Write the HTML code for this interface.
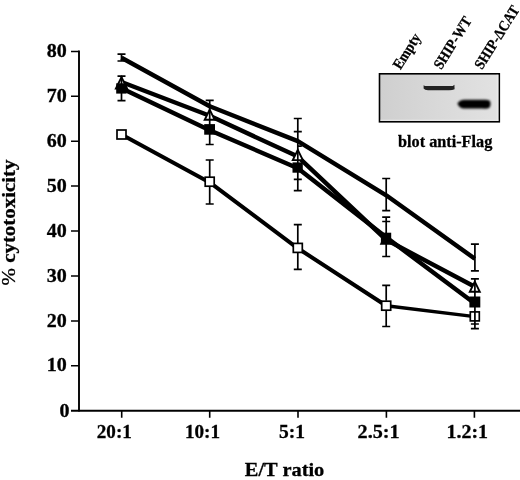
<!DOCTYPE html>
<html>
<head>
<meta charset="utf-8">
<title>Cytotoxicity vs E/T ratio</title>
<style>
html,body{margin:0;padding:0;background:#fff;}
body{width:520px;height:480px;overflow:hidden;}
svg{display:block;will-change:transform;}
text{font-family:"Liberation Serif","DejaVu Serif",serif;font-weight:bold;fill:#000;stroke:#000;stroke-width:0.3px;}
</style>
</head>
<body>
<svg width="520" height="480" viewBox="0 0 520 480">
<defs>
  <linearGradient id="gel" x1="0" y1="0" x2="1" y2="0">
    <stop offset="0" stop-color="#cfcfcf"/>
    <stop offset="0.5" stop-color="#d9d9d9"/>
    <stop offset="1" stop-color="#e2e2e2"/>
  </linearGradient>
  <filter id="b1" x="-20%" y="-100%" width="140%" height="300%"><feGaussianBlur stdDeviation="0.7"/></filter>
  <filter id="b2" x="-20%" y="-100%" width="140%" height="300%"><feGaussianBlur stdDeviation="0.9"/></filter>
</defs>
<rect x="0" y="0" width="520" height="480" fill="#fff"/>

<!-- axes -->
<g stroke="#000" fill="none" stroke-linecap="butt">
  <path d="M79 50.6 V411.6" stroke-width="1.9"/>
  <path d="M71 410.7 H520" stroke-width="2"/>
  <path d="M71 51.4 H79 M71 96.3 H79 M71 141.2 H79 M71 186.1 H79 M71 231.1 H79 M71 276.0 H79 M71 320.9 H79 M71 365.8 H79" stroke-width="1.5"/>
  <path d="M121.7 411 V417.8 M209.7 411 V417.8 M298 411 V417.8 M386.4 411 V417.8 M474.4 411 V417.8" stroke-width="1.6"/>
</g>

<!-- y tick labels -->
<g font-size="18.5" text-anchor="end">
  <text x="66.8" y="57.0" textLength="20" lengthAdjust="spacingAndGlyphs">80</text>
  <text x="66.8" y="101.9" textLength="20" lengthAdjust="spacingAndGlyphs">70</text>
  <text x="66.8" y="146.8" textLength="20" lengthAdjust="spacingAndGlyphs">60</text>
  <text x="66.8" y="191.7" textLength="20" lengthAdjust="spacingAndGlyphs">50</text>
  <text x="66.8" y="236.7" textLength="20" lengthAdjust="spacingAndGlyphs">40</text>
  <text x="66.8" y="281.6" textLength="20" lengthAdjust="spacingAndGlyphs">30</text>
  <text x="66.8" y="326.5" textLength="20" lengthAdjust="spacingAndGlyphs">20</text>
  <text x="66.8" y="371.4" textLength="20" lengthAdjust="spacingAndGlyphs">10</text>
  <text x="69.6" y="417" textLength="10" lengthAdjust="spacingAndGlyphs">0</text>
</g>

<!-- x tick labels -->
<g font-size="19">
  <text x="96.8" y="438" textLength="35" lengthAdjust="spacingAndGlyphs">20:1</text>
  <text x="185" y="438" textLength="35" lengthAdjust="spacingAndGlyphs">10:1</text>
  <text x="279" y="438" textLength="26" lengthAdjust="spacingAndGlyphs">5:1</text>
  <text x="357.6" y="438" textLength="42" lengthAdjust="spacingAndGlyphs">2.5:1</text>
  <text x="446.5" y="438" textLength="41.5" lengthAdjust="spacingAndGlyphs">1.2:1</text>
</g>

<!-- axis titles -->
<text x="244.8" y="476.4" font-size="19.5" textLength="79.5" lengthAdjust="spacingAndGlyphs">E/T ratio</text>
<text transform="translate(14.9 285.5) rotate(-90)" font-size="19.5" textLength="126" lengthAdjust="spacingAndGlyphs"><tspan font-weight="normal">%</tspan> cytotoxicity</text>

<!-- series lines -->
<g stroke="#000" stroke-width="4.4" fill="none" stroke-linejoin="round" stroke-linecap="butt">
  <polyline points="121.5,134.5 209.7,182.4 297.8,248.3 386.2,305.7" stroke-width="4"/>
  <polyline points="386.2,305.7 474.8,316.6" stroke-width="3.4"/>
  <polyline points="121.5,88.2 209.7,130.2 297.8,168.3 386.2,237.3 474.8,303.6"/>
  <polyline points="121.5,82.0 209.7,115.8 297.8,156.6 386.2,239.8 474.8,286.8"/>
  <polyline points="121.5,57.8 209.7,106.3 297.8,141.1 386.2,195.3 474.8,258.7"/>
</g>

<!-- markers -->
<g stroke="#000" stroke-width="1.7">
  <g fill="#fff">
    <rect x="117.00" y="130.00" width="9" height="9"/>
    <rect x="205.20" y="177.20" width="9" height="9"/>
    <rect x="293.30" y="243.40" width="9" height="9"/>
    <rect x="381.70" y="301.20" width="9" height="9"/>
    <rect x="470.30" y="311.90" width="9" height="9"/>
  </g>
  <g fill="#fff" stroke-linejoin="miter" stroke-width="1.9">
    <path d="M121.5 77.2 L127.1 88.6 H115.9 Z"/>
    <path d="M209.7 109.6 L214.7 119.8 H204.7 Z"/>
    <path d="M297.8 149.9 L302.8 160.1 H292.8 Z"/>
    <path d="M386.2 233.6 L391.2 243.8 H381.2 Z"/>
    <path d="M474.8 281.6 L479.8 291.8 H469.8 Z"/>
  </g>
  <g fill="#000" stroke="none">
    <rect x="116.20" y="83.30" width="10.3" height="10.3"/>
    <rect x="204.2" y="124.1" width="10.8" height="10.6"/>
    <rect x="292.50" y="162.40" width="10.3" height="10.3"/>
    <rect x="380.90" y="232.70" width="10.3" height="10.3"/>
    <rect x="469.4" y="296.5" width="10.9" height="11"/>
  </g>
</g>

<!-- error bars -->
<g stroke="#000" stroke-width="1.7" fill="none">
  <!-- 20:1 -->
  <path d="M121.5 54.2 V61 M117.5 54.2 H125.5 M117.5 61 H125.5"/>
  <path d="M121.5 76.2 V100.7 M117.5 76.2 H125.5 M117.5 100.7 H125.5"/>
  <!-- 10:1 -->
  <path d="M209.7 100.4 V144.5 M205.7 100.4 H213.7 M205.7 144.5 H213.7"/>
  <path d="M209.7 160 V177 M209.7 186.5 V204 M205.7 160 H213.7 M205.7 204 H213.7"/>
  <!-- 5:1 -->
  <path d="M297.8 118.5 V190.7 M293.8 118.5 H301.8 M293.8 131.7 H301.8 M297.8 146.2 H301.8 M293.8 179.3 H301.8 M293.8 190.7 H301.8"/>
  <path d="M297.8 224.7 V243 M297.8 253 V269.4 M293.8 224.7 H301.8 M293.8 269.4 H301.8"/>
  <!-- 2.5:1 -->
  <path d="M386.2 178.5 V210.6 M382.2 178.5 H390.2 M382.2 210.6 H390.2"/>
  <path d="M386.2 217.1 V256.5 M382.2 217.1 H390.2 M382.2 221.5 H390.2 M382.2 256.5 H390.2"/>
  <path d="M386.2 285.3 V300.7 M386.2 310.7 V326.5 M382.2 285.3 H390.2 M382.2 326.5 H390.2"/>
  <!-- 1.2:1 -->
  <path d="M474.9 244.2 V270.8 M470.9 244.2 H478.9 M470.9 270.8 H478.9"/>
  <path d="M474.9 278.8 V328.6 M470.9 278.8 H478.9 M470.9 324 H478.9 M470.9 328.6 H478.9"/>
</g>

<!-- inset blot -->
<rect x="379.5" y="73.8" width="119.8" height="48" fill="url(#gel)" stroke="#000" stroke-width="1.6"/>
<g filter="url(#b1)">
  <path d="M423.6 85.2 L425 86 H452.8 L454.4 84.8 L454.6 89.2 Q452 90.4 448 90.2 H428 Q424.6 90.2 423.6 88.6 Z" fill="#202020"/>
</g>
<g filter="url(#b2)">
  <path d="M457.4 103.6 Q459.6 99.6 465 99.8 H484 Q489.6 99.4 490.4 102 Q491 105 489.6 107.4 Q488 108.8 483 108.6 H464 Q459.4 108.6 457.4 103.6 Z" fill="#000"/>
</g>
<rect x="496.6" y="74.8" width="1.8" height="46" fill="#ececec" opacity="0.7"/>
<rect x="380.5" y="119.6" width="117.8" height="1.4" fill="#ececec" opacity="0.7"/>
<g font-size="15">
  <text transform="translate(400.6 70.3) rotate(-58)" textLength="39" lengthAdjust="spacingAndGlyphs">Empty</text>
  <text transform="translate(441.3 70.3) rotate(-58)" textLength="58.5" lengthAdjust="spacingAndGlyphs">SHIP-WT</text>
  <text transform="translate(482 70.3) rotate(-58)" textLength="71.5" lengthAdjust="spacingAndGlyphs">SHIP-ΔCAT</text>
</g>
<text x="398" y="146.6" font-size="17.2" textLength="94.3" lengthAdjust="spacingAndGlyphs">blot anti-Flag</text>
</svg>
</body>
</html>
